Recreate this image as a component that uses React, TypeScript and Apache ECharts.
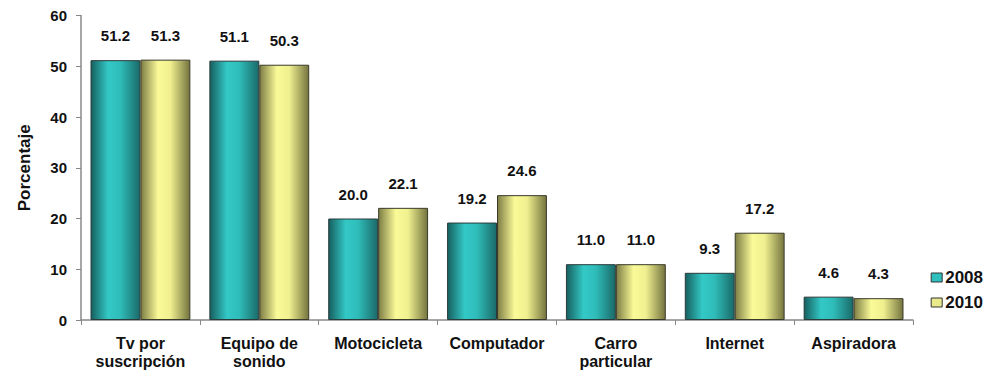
import React, { useEffect, useRef } from "react";
import * as echarts from "echarts";

const categories = ["Tv por\nsuscripción", "Equipo de\nsonido", "Motocicleta", "Computador", "Carro\nparticular", "Internet", "Aspiradora"];
const values2008 = [51.2, 51.1, 20.0, 19.2, 11.0, 9.3, 4.6];
const values2010 = [51.3, 50.3, 22.1, 24.6, 11.0, 17.2, 4.3];
const seriesNames = ["2008", "2010"];

const tealGrad = new echarts.graphic.LinearGradient(0, 0, 1, 0, [
  { offset: 0, color: "#165f5f" },
  { offset: 0.35, color: "#33c9c6" },
  { offset: 0.6, color: "#2fbcb9" },
  { offset: 1, color: "#1a6a68" },
]);
const yellowGrad = new echarts.graphic.LinearGradient(0, 0, 1, 0, [
  { offset: 0, color: "#7d7d45" },
  { offset: 0.35, color: "#fafa98" },
  { offset: 0.6, color: "#f0f090" },
  { offset: 1, color: "#74743f" },
]);

export default function App() {
  const ref = useRef<HTMLDivElement>(null);
  useEffect(() => {
    const chart = echarts.init(ref.current!, null, { renderer: "svg" });
    const font = "Liberation Sans, Arial, sans-serif";
    const labelStyle = {
      show: true,
      position: "top" as const,
      distance: 17,
      formatter: (p: any) => Number(p.value).toFixed(1),
      fontFamily: font,
      fontWeight: "bold" as const,
      fontSize: 15,
      color: "#111",
    };
    chart.setOption({
      animation: false,
      backgroundColor: "#ffffff",
      grid: { left: 69, right: 75, top: 5, bottom: 42, containLabel: false },
      legend: {
        orient: "vertical",
        right: 0,
        top: 256,
        itemWidth: 11,
        itemHeight: 9,
        itemGap: 8,
        icon: "rect",
        textStyle: { fontFamily: font, fontWeight: "bold", fontSize: 17, color: "#111", padding: [0, 0, 0, -2] },
        data: [
          { name: seriesNames[0], itemStyle: { color: "#2fbfbd", borderColor: "#333", borderWidth: 1 } },
          { name: seriesNames[1], itemStyle: { color: "#eaea8c", borderColor: "#333", borderWidth: 1 } },
        ],
      },
      xAxis: {
        type: "category",
        data: categories,
        axisLine: { lineStyle: { color: "#888", width: 1.5 } },
        axisTick: { show: true, length: 5, lineStyle: { color: "#888" } },
        axisLabel: {
          fontFamily: font,
          fontWeight: "bold",
          fontSize: 16,
          color: "#111",
          margin: 14,
          lineHeight: 18,
          interval: 0,
        },
      },
      yAxis: {
        type: "value",
        min: 0,
        max: 60,
        interval: 10,
        name: "Porcentaje",
        nameLocation: "middle",
        nameGap: 48,
        nameRotate: 90,
        nameTextStyle: { fontFamily: font, fontWeight: "bold", fontSize: 17, color: "#111" },
        axisLine: { show: true, lineStyle: { color: "#888", width: 1.5 } },
        axisTick: { show: true, length: 5, lineStyle: { color: "#888" } },
        splitLine: { show: false },
        axisLabel: { fontFamily: font, fontWeight: "bold", fontSize: 15, color: "#111", margin: 14 },
      },
      series: [
        {
          name: seriesNames[0],
          type: "bar",
          data: values2008,
          barGap: "0%",
          barCategoryGap: "16%",
          itemStyle: { color: tealGrad, borderColor: "#2a3a3a", borderWidth: 1 },
          label: labelStyle,
        },
        {
          name: seriesNames[1],
          type: "bar",
          data: values2010,
          itemStyle: { color: yellowGrad, borderColor: "#3a3a2a", borderWidth: 1 },
          label: labelStyle,
        },
      ],
    });
    return () => chart.dispose();
  }, []);
  return <div ref={ref} style={{ width: 980, height: 362 }} />;
}
